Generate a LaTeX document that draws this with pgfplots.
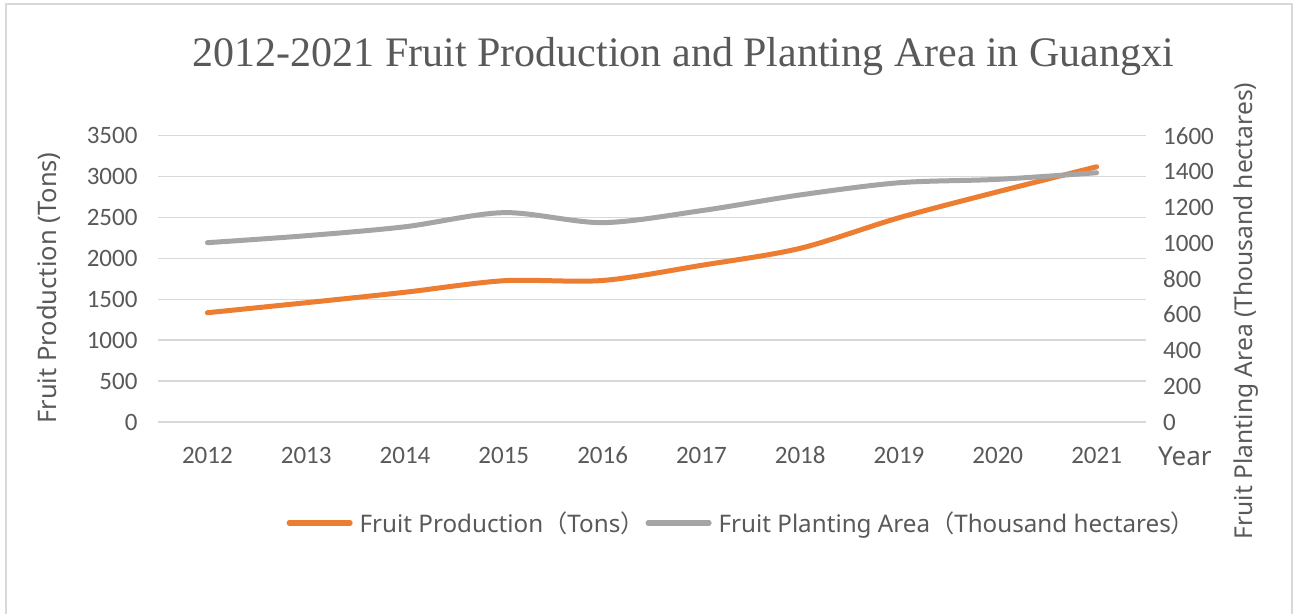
\documentclass[border=0pt]{standalone}
\usepackage{pgfplots}
\pgfplotsset{compat=1.18}
\usepackage{fontspec}
\setmainfont{Liberation Serif}
\newfontfamily\carlito{Carlito}
\newfontfamily\osans{Noto Sans}
\newfontfamily\cjk{Noto Sans CJK SC}
\definecolor{txt}{HTML}{595959}
\definecolor{org}{HTML}{ED7D31}
\definecolor{gry}{HTML}{A5A5A5}
\definecolor{gridc}{HTML}{D9D9D9}
\pgfplotstableread{
x prod area
0 1336 1002
1 1458 1041
2 1586 1091
3 1727 1170
4 1730 1114
5 1915 1181
6 2123 1269
7 2497 1337
8 2815 1356
9 3120 1393
}\datatab
\begin{document}
\begin{tikzpicture}[x=1bp,y=1bp]
\path[use as bounding box] (0,0) rectangle (1295,614);
\draw[draw=gridc, line width=1.5bp] (6,0) -- (6,610) -- (1292,610) -- (1292,0);
\pgfplotsset{
  common/.style={
    at={(158bp,192bp)}, anchor=south west,
    scale only axis, width=988bp, height=286.3bp,
    xmin=-0.5, xmax=9.5,
    axis line style={draw=none},
    major tick length=0,
    tick label style={font=\carlito\fontsize{25bp}{30bp}\selectfont, text=txt},
    /pgf/number format/assume math mode=true,
    /pgf/number format/1000 sep={},
  }
}
\begin{axis}[common,
  ymin=0, ymax=3500, ytick={0,500,...,3500},
  xtick={0,...,9}, xticklabels={2012,2013,2014,2015,2016,2017,2018,2019,2020,2021},
  ymajorgrids, grid style={draw=gridc, line width=1.4bp},
  yticklabel style={inner sep=0, anchor=east, xshift=-20.3bp},
  xticklabel style={inner sep=0, anchor=north, yshift=-24.7bp},
  legend columns=2,
  legend style={at={(rel axis cs:0.130,-0.3528)}, anchor=west, draw=none, fill=none,
    inner sep=0, font=\osans\fontsize{24.2bp}{28bp}\selectfont, text=txt,
    nodes={inner sep=0},
    /tikz/every odd column/.append style={column sep=7bp},
    /tikz/every even column/.append style={column sep=1bp}},
  legend image code/.code={\draw[#1, line cap=round] (0bp,0bp) -- (61bp,0bp);},
]
\addplot[org, line width=5bp, smooth, line cap=round, line join=round] table[x=x, y=prod] {\datatab};
\addlegendentry{Fruit Production{\cjk （}Tons{\cjk ）}}
\addlegendimage{gry, line width=5bp}
\addlegendentry{Fruit Planting Area{\cjk （}Thousand hectares{\cjk ）}}
\end{axis}
\begin{axis}[common,
  ymin=0, ymax=1600, ytick={0,200,...,1600},
  axis x line=none, axis y line*=right,
  yticklabel style={inner sep=0, anchor=west, xshift=17bp},
]
\addplot[gry, line width=5bp, smooth, line cap=round, line join=round] table[x=x, y=area] {\datatab};
\end{axis}
\node[anchor=base west, inner sep=0, text=txt, font=\fontsize{42bp}{48bp}\selectfont] at (192.7,547.3) {2012-2021 Fruit Production and Planting Area in Guangxi};
\node[rotate=90, inner sep=0, text=txt, font=\osans\fontsize{25.5bp}{30bp}\selectfont] at (49,326) {Fruit Production (Tons)};
\node[rotate=90, inner sep=0, text=txt, font=\osans\fontsize{24.6bp}{30bp}\selectfont] at (1246,303) {Fruit Planting Area (Thousand hectares)};
\node[anchor=base west, inner sep=0, text=txt, font=\osans\fontsize{26bp}{30bp}\selectfont] at (1158,148) {Year};
\end{tikzpicture}
\end{document}
